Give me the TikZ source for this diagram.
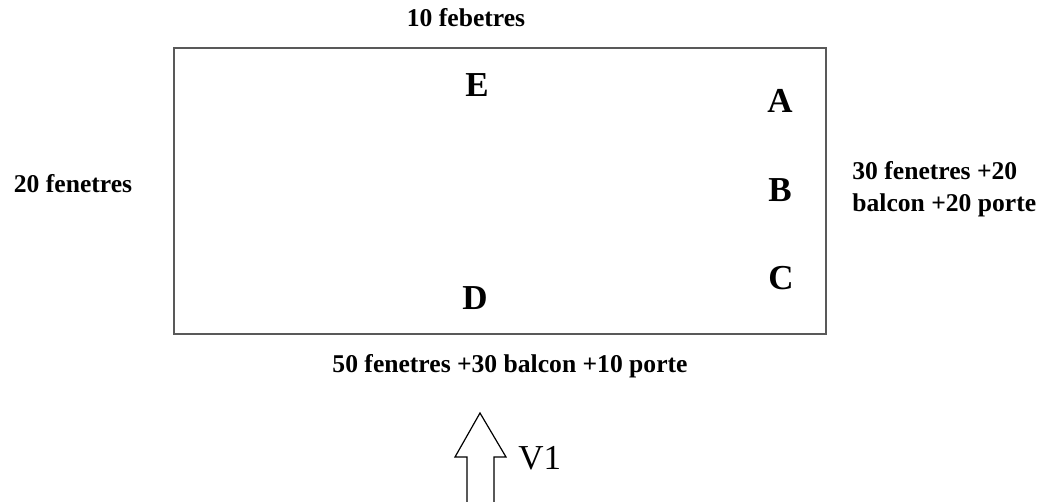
\documentclass[tikz,border=0pt]{standalone}
\usepackage{fontspec}
\setmainfont{Liberation Serif}
\usepackage{tikz}
\usetikzlibrary{positioning,calc}
\tikzset{
  facade/.style = {draw=black!65, line width=1.3pt},
  side/.style = {font=\fontsize{12.8}{16}\selectfont\bfseries, inner sep=0pt},
  corner/.style = {font=\fontsize{17.5}{20}\selectfont\bfseries, inner sep=0pt},
  view/.style = {draw=black, line width=0.6pt, fill=white},
}

\begin{document}
\begin{tikzpicture}[x=0.5pt, y=-0.5pt]
\useasboundingbox (0,0) rectangle (1040,502);

% the building
\draw[facade] (174,48) rectangle (826,334);

% points of view
\node[corner] (E) at (477,85) {E};
\node[corner] (A) at (780,101) {A};
\node[corner] (B) at (780,190) {B};
\node[corner] (C) at (781,278) {C};
\node[corner] (D) at (475,298) {D};

% openings on each side
\node[side, anchor=base] (north) at (466,27) {10 febetres};
\node[side, anchor=base] (west) at (73,193) {20 fenetres};
\node[side, anchor=base west, align=left] (east) at (852,212)
  {30 fenetres +20\\ balcon +20 porte};
\node[side, anchor=base] (south) at (510,373) {50 fenetres +30 balcon +10 porte};

% view arrow V1
\draw[view] (480,413) -- (506,457) -- (494,457) -- (494,503)
  -- (467,503) -- (467,457) -- (455,457) -- cycle;
\node[font=\fontsize{17.5}{20}\selectfont, anchor=base west, inner sep=0pt] (V1) at (518,470) {V1};

\end{tikzpicture}
\end{document}
